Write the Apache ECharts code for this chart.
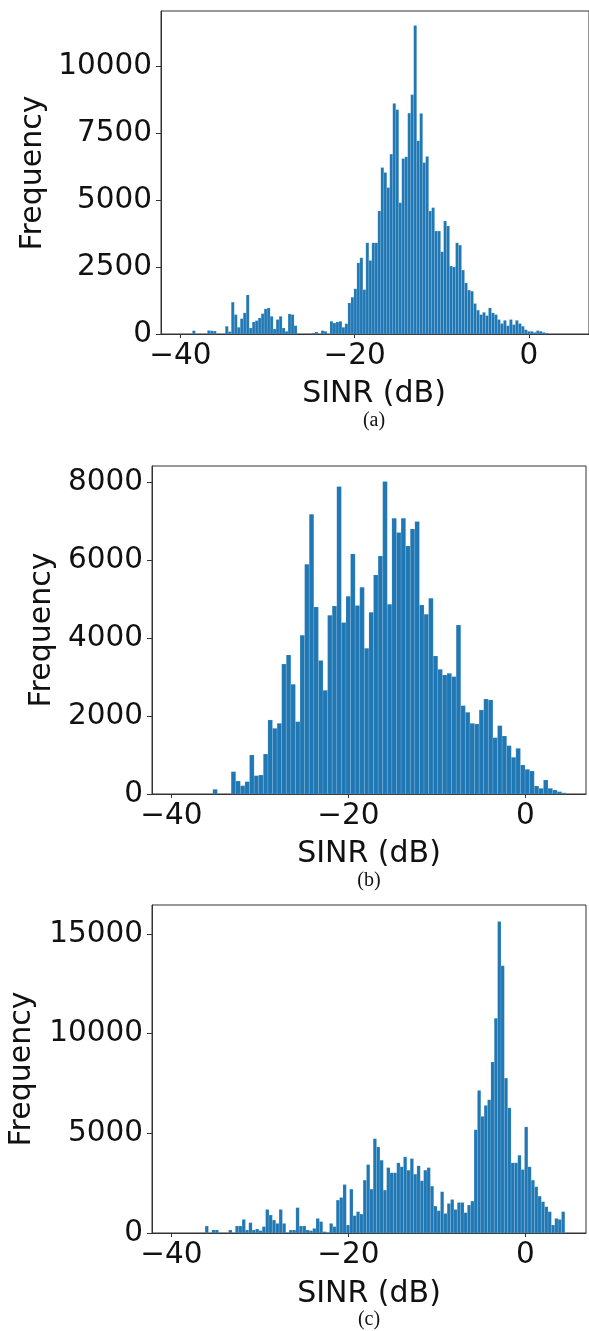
<!DOCTYPE html>
<html>
<head>
<meta charset="utf-8">
<title>SINR histograms</title>
<script src="https://cdn.jsdelivr.net/npm/echarts@6.0.0/dist/echarts.min.js"></script>
<style>
    html, body { margin: 0; padding: 0; background: #fff; }
    #main { width: 589px; height: 1331px; }
</style>
</head>
<body>
<div id="main"></div>
<script>
    // histogram bins: first edge + bin width (dB), counts
    const binStartA = -40
    const binWidthA = 0.3433
    const countsA = [
        0, 0, 0, 0, 125, 0, 0, 0, 0, 130,
        120, 110, 0, 0, 0, 290, 90, 1190, 725, 250,
        575, 790, 1460, 225, 450, 500, 600, 760, 940, 975,
        660, 190, 540, 660, 225, 100, 750, 725, 310, 0,
        0, 0, 0, 0, 40, 75, 0, 125, 100, 10,
        475, 410, 450, 475, 250, 385, 1160, 1375, 1690, 2660,
        2850, 1660, 3410, 2750, 3410, 3410, 4600, 6225, 6040, 5475,
        6725, 8625, 8390, 4910, 6560, 6625, 8260, 8950, 11540, 7225,
        8250, 6410, 6640, 4600, 4725, 3850, 3850, 3075, 4225, 4040,
        2540, 2510, 3410, 3325, 2390, 1910, 1640, 1600, 1140, 890,
        725, 810, 690, 975, 790, 725, 540, 390, 510, 310,
        540, 350, 510, 390, 290, 160, 100, 100, 60, 125,
        100, 60, 40, 0, 0, 0, 0, 0, 0, 0
    ]

    const binStartB = -40
    const binWidthB = 0.519
    const countsB = [
        0, 0, 0, 0, 0, 0, 0, 0, 0, 120,
        0, 0, 0, 574, 334, 214, 317, 1003, 471, 488,
        1028, 1903, 1688, 1817, 3342, 3574, 2820, 1860, 4079, 5905,
        7190, 4808, 3428, 2665, 4594, 4833, 7902, 4405, 5082, 6170,
        4842, 5313, 3745, 4671, 5630, 6119, 8030, 4876, 7087, 6719,
        7087, 6376, 6813, 7002, 4859, 4619, 5031, 3548, 3205, 3059,
        3102, 3017, 4345, 2271, 2100, 1817, 1800, 2160, 2442, 2417,
        1448, 1757, 1491, 1243, 943, 1174, 746, 634, 591, 206,
        146, 360, 146, 103, 60, 30
    ]

    const binStartC = -40
    const binWidthC = 0.38
    const countsC = [
        0, 0, 0, 0, 0, 0, 0, 0, 0, 0,
        350, 0, 150, 150, 0, 0, 0, 150, 0, 350,
        350, 680, 150, 520, 150, 200, 120, 320, 1180, 900,
        650, 480, 1180, 480, 0, 150, 150, 1270, 350, 350,
        150, 120, 230, 730, 570, 70, 35, 480, 320, 1650,
        1780, 2430, 400, 2200, 870, 1070, 950, 2650, 3430, 2200,
        4730, 4320, 3650, 2150, 3280, 3020, 3020, 3520, 3320, 3820,
        3150, 3730, 2950, 3370, 2620, 3150, 3280, 2350, 1350, 1120,
        2070, 980, 1480, 1680, 1180, 1530, 1530, 1020, 1400, 1600,
        5180, 7150, 5850, 6400, 6680, 8570, 10770, 15620, 13400, 7770,
        6280, 3520, 3520, 3900, 3180, 5320, 3320, 2650, 2320, 1850,
        1570, 1320, 1070, 400, 730, 680, 1070
    ]

    // axis ticks
    const xTicks = [-40, -20, 0]
    const yTicksA = [0, 2500, 5000, 7500, 10000]
    const yTicksB = [0, 2000, 4000, 6000, 8000]
    const yTicksC = [0, 5000, 10000, 15000]

    const xLabel = 'SINR (dB)'
    const yLabel = 'Frequency'
    const panelLabels = ['(a)', '(b)', '(c)']

    const font = 'DejaVu Sans'
    const barColor = '#1f77b4'
    const lineColor = '#333'

    function toBins(start, width, counts) {
        const out = []
        counts.forEach(function(c, i) {
            if (c > 0) {
                out.push([start + i * width, start + (i + 1) * width, c])
            }
        })
        return out
    }

    function renderBar(params, api) {
        const p0 = api.coord([api.value(0), api.value(2)])
        const p1 = api.coord([api.value(1), 0])
        return {
            type: 'rect',
            shape: { x: p0[0], y: p0[1], width: p1[0] - p0[0], height: p1[1] - p0[1] },
            style: { fill: barColor, stroke: 'rgba(255,255,255,0.3)', lineWidth: 0.4 }
        }
    }

    function makeX(idx, min, max) {
        return {
            gridIndex: idx,
            type: 'value',
            min: min,
            max: max,
            axisLine: { show: true, onZero: false, lineStyle: { color: lineColor, width: 1 } },
            axisTick: { show: true, length: 4, customValues: xTicks, lineStyle: { color: lineColor } },
            axisLabel: {
                customValues: xTicks,
                margin: 7,
                fontSize: 29.5,
                fontFamily: font,
                color: '#111',
                formatter: function(v) { return String(v).replace('-', '\u2212') }
            },
            splitLine: { show: false }
        }
    }

    function makeY(idx, max, ticks) {
        return {
            gridIndex: idx,
            type: 'value',
            min: 0,
            max: max,
            axisLine: { show: true, onZero: false, lineStyle: { color: lineColor, width: 1 } },
            axisTick: { show: true, length: 5, customValues: ticks, lineStyle: { color: lineColor } },
            axisLabel: {
                customValues: ticks,
                margin: 9,
                fontSize: 29.5,
                fontFamily: font,
                color: '#111',
                formatter: function(v) { return String(v) }
            },
            splitLine: { show: false }
        }
    }

    function text(str, x, y, size, family, rot) {
        return {
            type: 'text',
            x: x,
            y: y,
            rotation: rot || 0,
            style: {
                text: str,
                fontSize: size,
                fontFamily: family,
                fill: '#111',
                textAlign: 'center',
                textVerticalAlign: 'middle'
            }
        }
    }

    const chart = echarts.init(document.getElementById('main'))

    const gridBox = { show: true, borderColor: lineColor, borderWidth: 1, backgroundColor: 'transparent' }

    const option = {
        animation: false,
        backgroundColor: '#fff',
        grid: [
            Object.assign({ left: 161, top: 11, width: 428, height: 323 }, gridBox),
            Object.assign({ left: 152, top: 466, width: 434, height: 328 }, gridBox),
            Object.assign({ left: 152, top: 905, width: 434, height: 328 }, gridBox)
        ],
        xAxis: [
            makeX(0, -42.23, 6.9),
            makeX(1, -42.2, 6.85),
            makeX(2, -42.2, 6.85)
        ],
        yAxis: [
            makeY(0, 12080, yTicksA),
            makeY(1, 8430, yTicksB),
            makeY(2, 16450, yTicksC)
        ],
        series: [
            {
                type: 'custom',
                xAxisIndex: 0,
                yAxisIndex: 0,
                renderItem: renderBar,
                encode: { x: [0, 1], y: 2 },
                data: toBins(binStartA, binWidthA, countsA)
            },
            {
                type: 'custom',
                xAxisIndex: 1,
                yAxisIndex: 1,
                renderItem: renderBar,
                encode: { x: [0, 1], y: 2 },
                data: toBins(binStartB, binWidthB, countsB)
            },
            {
                type: 'custom',
                xAxisIndex: 2,
                yAxisIndex: 2,
                renderItem: renderBar,
                encode: { x: [0, 1], y: 2 },
                data: toBins(binStartC, binWidthC, countsC)
            }
        ],
        graphic: [
            text(yLabel, 33, 173, 30, font, Math.PI / 2),
            text(yLabel, 42, 630, 30, font, Math.PI / 2),
            text(yLabel, 22, 1069, 30, font, Math.PI / 2),
            text(xLabel, 374, 394, 30, font),
            text(xLabel, 369, 854, 30, font),
            text(xLabel, 369, 1294, 30, font),
            text(panelLabels[0], 374, 421, 20, 'Liberation Serif'),
            text(panelLabels[1], 369, 881, 20, 'Liberation Serif'),
            text(panelLabels[2], 369, 1320, 20, 'Liberation Serif')
        ]
    }

    chart.setOption(option)
</script>
</body>
</html>
